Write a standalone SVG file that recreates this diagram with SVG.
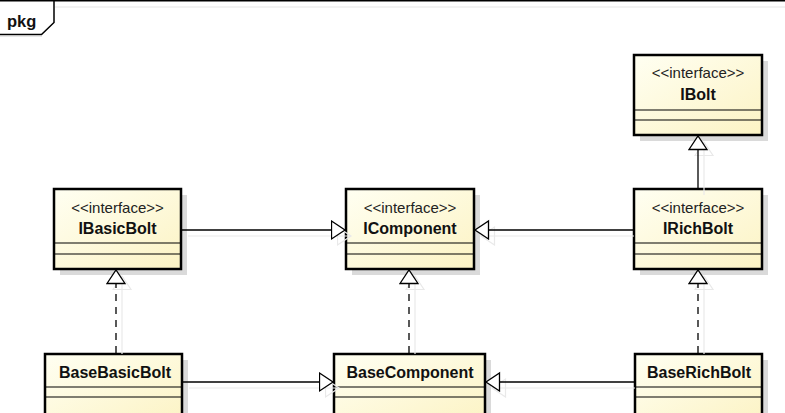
<svg xmlns="http://www.w3.org/2000/svg" width="785" height="413" viewBox="0 0 785 413">
<style>
.bg{fill:#ffffff}
.shadow{fill:#dadada}
.box{fill:url(#boxFill);stroke:#000;stroke-width:2.5}
.div{stroke:#000;stroke-width:1.2}
.st{font-family:"Liberation Sans",Arial,sans-serif;font-size:15px;fill:#222;text-anchor:middle}
.nm{font-family:"Liberation Sans",Arial,sans-serif;font-size:16px;font-weight:bold;fill:#111;text-anchor:middle}
.pkg{font-family:"Liberation Sans",Arial,sans-serif;font-size:16.5px;font-weight:bold;fill:#111}
.edge{fill:none;stroke:#000;stroke-width:1.3}
.dash{stroke-dasharray:7 6}
.eshadow{fill:none;stroke:#e9e9e9;stroke-width:1.2}
.frame{fill:none;stroke:#000;stroke-width:1.5}
.fshadow{fill:none;stroke:#e6e6e6;stroke-width:1.2}
</style>
<defs>
<linearGradient id="boxFill" x1="0" y1="0" x2="1" y2="1">
<stop offset="0" stop-color="#fffff2"/>
<stop offset="1" stop-color="#fcf3c4"/>
</linearGradient>
<marker id="gen" markerUnits="userSpaceOnUse" markerWidth="17" markerHeight="21" refX="14.5" refY="10" orient="auto">
<path d="M1,1 L14.5,10 L1,19 Z" fill="#fff" stroke="#000" stroke-width="1.3"/>
</marker>
<marker id="genS" markerUnits="userSpaceOnUse" markerWidth="17" markerHeight="21" refX="14.5" refY="10" orient="auto">
<path d="M1,1 L14.5,10 L1,19 Z" fill="none" stroke="#e9e9e9" stroke-width="1.2"/>
</marker>
</defs>
<rect class="bg" x="0" y="0" width="785" height="413"/>

<g id="frame">
<line class="fshadow" x1="55" y1="7" x2="785" y2="7"/>
<line class="fshadow" x1="0" y1="36.5" x2="42" y2="36.5"/>
<line class="frame" x1="0" y1="0.75" x2="785" y2="0.75"/>
<path class="frame" d="M54,0 L54,22.5 L41.5,34.5 L0,34.5"/>
<text class="pkg" x="7" y="27">pkg</text>
</g>

<g id="IBolt">
<rect class="shadow" x="640" y="61" width="128" height="80"/>
<rect class="box" x="634" y="55" width="128" height="80"/>
<line class="div" x1="634" y1="110" x2="762" y2="110"/>
<line class="div" x1="634" y1="120" x2="762" y2="120"/>
<text class="st" x="698" y="78">&lt;&lt;interface&gt;&gt;</text>
<text class="nm" x="698" y="100">IBolt</text>
</g>

<g id="IBasicBolt">
<rect class="shadow" x="60" y="195" width="127" height="80"/>
<rect class="box" x="54" y="189" width="127" height="80"/>
<line class="div" x1="54" y1="243" x2="181" y2="243"/>
<line class="div" x1="54" y1="254" x2="181" y2="254"/>
<text class="st" x="117.5" y="213">&lt;&lt;interface&gt;&gt;</text>
<text class="nm" x="117.5" y="234">IBasicBolt</text>
</g>

<g id="IComponent">
<rect class="shadow" x="352" y="195" width="128" height="80"/>
<rect class="box" x="346" y="189" width="128" height="80"/>
<line class="div" x1="346" y1="243" x2="474" y2="243"/>
<line class="div" x1="346" y1="254" x2="474" y2="254"/>
<text class="st" x="410" y="213">&lt;&lt;interface&gt;&gt;</text>
<text class="nm" x="410" y="234">IComponent</text>
</g>

<g id="IRichBolt">
<rect class="shadow" x="640" y="195" width="128" height="80"/>
<rect class="box" x="634" y="189" width="128" height="80"/>
<line class="div" x1="634" y1="243" x2="762" y2="243"/>
<line class="div" x1="634" y1="254" x2="762" y2="254"/>
<text class="st" x="698" y="213">&lt;&lt;interface&gt;&gt;</text>
<text class="nm" x="698" y="234">IRichBolt</text>
</g>

<g id="BaseBasicBolt">
<rect class="shadow" x="51" y="360" width="137" height="70"/>
<rect class="box" x="45" y="354" width="137" height="70"/>
<line class="div" x1="45" y1="387" x2="182" y2="387"/>
<line class="div" x1="45" y1="397" x2="182" y2="397"/>
<text class="nm" x="115" y="378">BaseBasicBolt</text>
</g>

<g id="BaseComponent">
<rect class="shadow" x="340" y="360" width="151" height="70"/>
<rect class="box" x="334" y="354" width="151" height="70"/>
<line class="div" x1="334" y1="387" x2="485" y2="387"/>
<line class="div" x1="334" y1="397" x2="485" y2="397"/>
<text class="nm" x="410" y="378">BaseComponent</text>
</g>

<g id="BaseRichBolt">
<rect class="shadow" x="641" y="360" width="127" height="70"/>
<rect class="box" x="635" y="354" width="127" height="70"/>
<line class="div" x1="635" y1="387" x2="762" y2="387"/>
<line class="div" x1="635" y1="397" x2="762" y2="397"/>
<text class="nm" x="699" y="378">BaseRichBolt</text>
</g>

<g id="connectors">
<line class="eshadow" x1="704" y1="195" x2="704" y2="142" marker-end="url(#genS)"/>
<line class="eshadow" x1="188" y1="236" x2="351" y2="236" marker-end="url(#genS)"/>
<line class="eshadow" x1="634" y1="236" x2="481" y2="236" marker-end="url(#genS)"/>
<line class="eshadow" x1="122" y1="354" x2="122" y2="276" marker-end="url(#genS)"/>
<line class="eshadow" x1="415" y1="354" x2="415" y2="276" marker-end="url(#genS)"/>
<line class="eshadow" x1="704" y1="354" x2="704" y2="276" marker-end="url(#genS)"/>
<line class="eshadow" x1="189" y1="388" x2="339" y2="388" marker-end="url(#genS)"/>
<line class="eshadow" x1="635" y1="388" x2="492" y2="388" marker-end="url(#genS)"/>

<line class="edge" x1="698" y1="188" x2="698" y2="136" marker-end="url(#gen)"/>
<line class="edge" x1="182" y1="230" x2="345" y2="230" marker-end="url(#gen)"/>
<line class="edge" x1="633" y1="230" x2="475" y2="230" marker-end="url(#gen)"/>
<line class="edge dash" x1="116" y1="353" x2="116" y2="270" marker-end="url(#gen)"/>
<line class="edge dash" x1="409" y1="353" x2="409" y2="270" marker-end="url(#gen)"/>
<line class="edge dash" x1="698" y1="353" x2="698" y2="270" marker-end="url(#gen)"/>
<line class="edge" x1="183" y1="382" x2="333" y2="382" marker-end="url(#gen)"/>
<line class="edge" x1="634" y1="382" x2="486" y2="382" marker-end="url(#gen)"/>
</g>
</svg>
